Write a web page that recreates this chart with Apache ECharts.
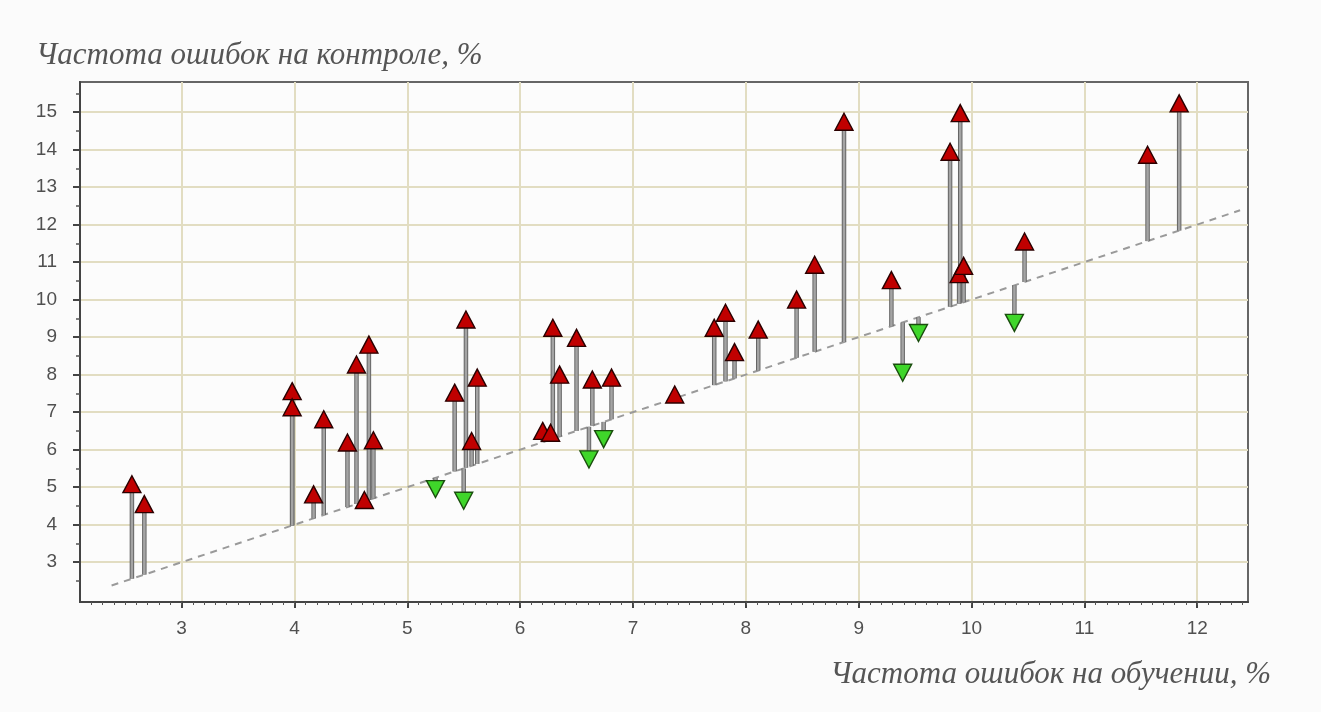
<!DOCTYPE html>
<html>
<head>
<meta charset="utf-8">
<script src="https://cdn.jsdelivr.net/npm/echarts@6/dist/echarts.min.js"></script>
<style>
html,body{margin:0;padding:0;background:#fbfbfb;}
#chart{width:1321px;height:712px;}
</style>
</head>
<body>
<div id="chart"></div>
<script>
// Training error (x), control error (y)
const trainErr = [2.56, 2.67, 3.98, 3.98, 4.17, 4.26, 4.47, 4.55, 4.62, 4.66, 4.70, 5.25, 5.42, 5.52, 5.50, 5.57, 5.62, 6.20, 6.27, 6.29, 6.35, 6.50, 6.61, 6.64, 6.74, 6.81, 7.37, 7.72, 7.82, 7.90, 8.11, 8.45, 8.61, 8.87, 9.29, 9.39, 9.53, 9.81, 9.90, 9.89, 9.93, 10.38, 10.47, 11.56, 11.84];
const testErr  = [5.08, 4.55, 7.56, 7.13, 4.81, 6.81, 6.19, 8.27, 4.66, 8.80, 6.25, 4.95, 7.52, 9.47, 4.64, 6.23, 7.92, 6.50, 6.45, 9.25, 8.00, 8.98, 5.74, 7.87, 6.28, 7.92, 7.47, 9.25, 9.65, 8.60, 9.20, 10.00, 10.93, 14.74, 10.52, 8.05, 9.11, 13.94, 14.97, 10.68, 10.90, 9.38, 11.55, 13.86, 15.23];
const diagEnds = [2.38, 12.38];
const xTicks = [3, 4, 5, 6, 7, 8, 9, 10, 11, 12];
const yTicks = [3, 4, 5, 6, 7, 8, 9, 10, 11, 12, 13, 14, 15];
const xRange = [2.1, 12.45];
const yRange = [1.94, 15.8];
const yTitle = 'Частота ошибок на контроле, %';
const xTitle = 'Частота ошибок на обучении, %';

const xMinor = [];
for (let i = 22; i <= 124; i++) xMinor.push(i / 10);
const yMinor = [];
for (let i = 2; i <= 15; i++) yMinor.push(i + 0.5);

const pts = trainErr.map((x, i) => [x, testErr[i]]);
const upPts = pts.filter(p => p[1] >= p[0]);
const downPts = pts.filter(p => p[1] < p[0]);

const chart = echarts.init(document.getElementById('chart'), null, {renderer: 'canvas'});
const labelStyle = {fontSize: 19, color: '#505050', fontFamily: '"Liberation Sans", Arial, sans-serif'};
const titleFont = 'italic 31px "Liberation Serif", "Times New Roman", serif';
chart.setOption({
  animation: false,
  backgroundColor: '#fbfbfb',
  grid: {left: 80, right: 73, top: 82, bottom: 110, show: true, borderColor: '#666', borderWidth: 2, backgroundColor: '#fcfcfc'},
  graphic: [
    {type: 'text', left: 36, top: 40, style: {text: yTitle, font: titleFont, fill: '#555'}},
    {type: 'text', right: 50, top: 659, style: {text: xTitle, font: titleFont, fill: '#555'}}
  ],
  xAxis: [
    {type: 'value', min: xRange[0], max: xRange[1],
     axisLine: {show: true, onZero: false, lineStyle: {color: '#444', width: 2}},
     axisTick: {show: true, customValues: xTicks, length: 6, lineStyle: {color: '#444', width: 2}},
     axisLabel: Object.assign({customValues: xTicks, margin: 17}, labelStyle),
     splitLine: {show: false}},
    {type: 'value', min: xRange[0], max: xRange[1], position: 'bottom',
     axisLine: {show: false}, axisLabel: {show: false},
     axisTick: {show: true, customValues: xMinor, length: 3, lineStyle: {color: '#555', width: 1}},
     splitLine: {show: false}}
  ],
  yAxis: [
    {type: 'value', min: yRange[0], max: yRange[1],
     axisLine: {show: true, onZero: false, lineStyle: {color: '#444', width: 2}},
     axisTick: {show: true, customValues: yTicks, length: 7, lineStyle: {color: '#444', width: 2}},
     axisLabel: Object.assign({customValues: yTicks, margin: 23}, labelStyle),
     splitLine: {show: false}},
    {type: 'value', min: yRange[0], max: yRange[1], position: 'left',
     axisLine: {show: false}, axisLabel: {show: false},
     axisTick: {show: true, customValues: yMinor, length: 4, lineStyle: {color: '#555', width: 1.5}},
     splitLine: {show: false}}
  ],
  series: [
    {type: 'line', data: [], z: 0, silent: true,
     markLine: {silent: true, z: 0, symbol: ['none', 'none'], label: {show: false},
       lineStyle: {color: '#e2ddc2', width: 2, type: 'solid'},
       emphasis: {disabled: true},
       data: xTicks.map(v => ({xAxis: v})).concat(yTicks.map(v => ({yAxis: v})))}},
    {type: 'line', data: diagEnds.map(v => [v, v]), symbol: 'none', silent: true, z: 1,
     lineStyle: {color: '#9a9a9a', width: 2, type: [7, 6]}},
    {type: 'custom', data: pts, z: 2, silent: true,
     renderItem: function (params, api) {
       const x = api.value(0), y = api.value(1);
       const a = api.coord([x, x]), b = api.coord([x, y]);
       return {type: 'group', children: [
         {type: 'line', shape: {x1: a[0], y1: a[1], x2: b[0], y2: b[1]}, style: {stroke: '#666', lineWidth: 4.5}},
         {type: 'line', shape: {x1: a[0], y1: a[1], x2: b[0], y2: b[1]}, style: {stroke: '#a4a4a4', lineWidth: 2.5}}
       ]};
     }},
    {type: 'scatter', data: upPts, symbol: 'triangle', symbolSize: [18, 17], z: 4,
     itemStyle: {color: '#c00000', borderColor: '#2a0000', borderWidth: 1.4, opacity: 1}},
    {type: 'scatter', data: downPts, symbol: 'triangle', symbolRotate: 180, symbolSize: [18, 17], z: 4,
     itemStyle: {color: '#3fd62a', borderColor: '#1a4d0e', borderWidth: 1.4, opacity: 1}}
  ]
});
</script>
</body>
</html>
